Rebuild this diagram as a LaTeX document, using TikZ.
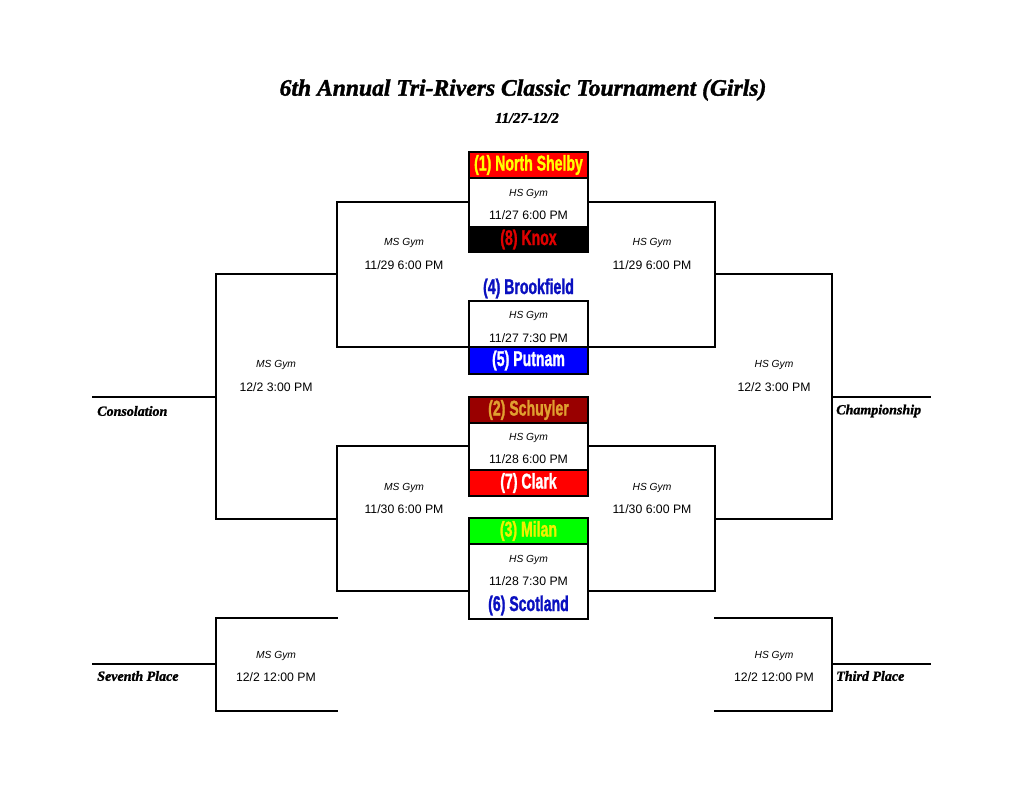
\documentclass[tikz,border=0pt]{standalone}
\usepackage{fontspec}
\setmainfont{Liberation Sans}
\newfontfamily\teamfont{Liberation Sans}[UprightFont=* Bold, FakeStretch=0.66, FakeBold=1.2]
\newfontfamily\titlefont{Liberation Serif}[UprightFont=* Bold Italic, FakeBold=1.5]
\definecolor{nsred}{HTML}{FF0000}
\definecolor{nsyellow}{HTML}{FFFF00}
\definecolor{knoxred}{HTML}{E00000}
\definecolor{dkblue}{HTML}{0A10C0}
\definecolor{putblue}{HTML}{0000FF}
\definecolor{schred}{HTML}{990000}
\definecolor{schgold}{HTML}{E0A030}
\definecolor{milgreen}{HTML}{00FF00}
\definecolor{milyellow}{HTML}{F0F000}
\tikzset{
  bline/.style={line width=1.1pt, black, line cap=rect},
  gbox/.style={draw, line width=0.9pt, minimum width=89.25pt, inner sep=0pt},
  team/.style={draw, line width=0.9pt, minimum width=89.25pt, inner sep=0pt,
    font=\teamfont\fontsize{16}{16}\selectfont},
  teamtxt/.style={inner sep=0pt, font=\teamfont\fontsize{16}{16}\selectfont},
  gym/.style={inner sep=0pt, font=\itshape\fontsize{7.7}{8}\selectfont},
  tm/.style={inner sep=0pt, font=\fontsize{9.2}{10}\selectfont},
  lab/.style={inner sep=0pt, anchor=west, font=\titlefont\fontsize{10.5}{11}\selectfont},
}
\begin{document}
\begin{tikzpicture}[x=0.75pt, y=-0.75pt]
\useasboundingbox (0,0) rectangle (1024,791);
\fill[white] (0,0) rectangle (1024,791);

% title
\node[inner sep=0pt, font=\titlefont\fontsize{17.7}{20}\selectfont] (title) at (523,90) {6th Annual Tri-Rivers Classic Tournament (Girls)};
\node[inner sep=0pt, font=\titlefont\fontsize{11}{12}\selectfont] (sub) at (527,118) {11/27-12/2};

% ---------- center game boxes ----------
% box 1
\node[gbox, minimum height=75pt] (b1) at (528.5,202) {};
\node[team, fill=nsred, text=nsyellow, minimum height=19.5pt] (t1) at (528.5,165) {(1) North Shelby};
\node[team, fill=black, text=knoxred, minimum height=18.75pt] (t8) at (528.5,239.5) {(8) Knox};
\node[gym] (g1) at (528.5,194) {HS Gym};
\node[tm] (d1) at (528.5,215) {11/27 6:00 PM};
% box 2
\node[teamtxt, text=dkblue] (t4) at (528.5,288.5) {(4) Brookfield};
\node[gbox, minimum height=54.75pt] (b2) at (528.5,337.5) {};
\node[team, fill=putblue, text=white, minimum height=20.25pt] (t5) at (528.5,360.5) {(5) Putnam};
\node[gym] (g2) at (528.5,316) {HS Gym};
\node[tm] (d2) at (528.5,338) {11/27 7:30 PM};
% box 3
\node[gbox, minimum height=74.25pt] (b3) at (528.5,446.5) {};
\node[team, fill=schred, text=schgold, minimum height=19.5pt] (t2) at (528.5,410) {(2) Schuyler};
\node[team, fill=nsred, text=white, minimum height=19.5pt] (t7) at (528.5,483) {(7) Clark};
\node[gym] (g3) at (528.5,438) {HS Gym};
\node[tm] (d3) at (528.5,459) {11/28 6:00 PM};
% box 4
\node[gbox, minimum height=75.75pt] (b4) at (528.5,568.5) {};
\node[team, fill=milgreen, text=milyellow, minimum height=19.5pt] (t3) at (528.5,531) {(3) Milan};
\node[teamtxt, text=dkblue] (t6) at (528.5,605.5) {(6) Scotland};
\node[gym] (g4) at (528.5,560) {HS Gym};
\node[tm] (d4) at (528.5,581) {11/28 7:30 PM};

% ---------- bracket coordinates ----------
\coordinate (L1a) at (337,202); \coordinate (L1b) at (337,347);
\coordinate (L2a) at (337,446); \coordinate (L2b) at (337,591);
\coordinate (R1a) at (715,202); \coordinate (R1b) at (715,347);
\coordinate (R2a) at (715,446); \coordinate (R2b) at (715,591);
\coordinate (LS1) at (216,274); \coordinate (LS2) at (216,519);
\coordinate (RS1) at (832,274); \coordinate (RS2) at (832,519);
\coordinate (Lcons) at (93,397); \coordinate (Rchamp) at (930,397);
\coordinate (L7a) at (216,618); \coordinate (L7b) at (216,711);
\coordinate (R3a) at (832,618); \coordinate (R3b) at (832,711);
\coordinate (L7e) at (93,664); \coordinate (R3e) at (930,664);

% first round -> second round
\draw[bline] (b1.west |- L1a) -- (L1a) -- (L1b) -- (b2.west |- L1b);
\draw[bline] (b1.east |- R1a) -- (R1a) -- (R1b) -- (b2.east |- R1b);
\draw[bline] (b3.west |- L2a) -- (L2a) -- (L2b) -- (b4.west |- L2b);
\draw[bline] (b3.east |- R2a) -- (R2a) -- (R2b) -- (b4.east |- R2b);
% second round -> semis
\draw[bline] (L1a |- LS1) -- (LS1);
\draw[bline] (L2a |- LS2) -- (LS2);
\draw[bline] (R1a |- RS1) -- (RS1);
\draw[bline] (R2a |- RS2) -- (RS2);
\draw[bline] (LS1) -- (LS2);
\draw[bline] (RS1) -- (RS2);
\draw[bline] (LS1 |- Lcons) -- (Lcons);
\draw[bline] (RS1 |- Rchamp) -- (Rchamp);
% placement games
\draw[bline] (L2a |- L7a) -- (L7a) -- (L7b) -- (L2a |- L7b);
\draw[bline] (R2a |- R3a) -- (R3a) -- (R3b) -- (R2a |- R3b);
\draw[bline] (L7a |- L7e) -- (L7e);
\draw[bline] (R3a |- R3e) -- (R3e);

% ---------- game info ----------
\node[gym] (g5) at (404,243) {MS Gym};  \node[tm] (d5) at (404,265) {11/29 6:00 PM};
\node[gym] (g6) at (652,243) {HS Gym};  \node[tm] (d6) at (652,265) {11/29 6:00 PM};
\node[gym] (g7) at (404,488) {MS Gym};  \node[tm] (d7) at (404,509) {11/30 6:00 PM};
\node[gym] (g8) at (652,488) {HS Gym};  \node[tm] (d8) at (652,509) {11/30 6:00 PM};
\node[gym] (g9) at (276,365) {MS Gym};  \node[tm] (d9) at (276,387) {12/2 3:00 PM};
\node[gym] (g10) at (774,365) {HS Gym}; \node[tm] (d10) at (774,387) {12/2 3:00 PM};
\node[gym] (g11) at (276,656) {MS Gym}; \node[tm] (d11) at (276,677) {12/2 12:00 PM};
\node[gym] (g12) at (774,656) {HS Gym}; \node[tm] (d12) at (774,677) {12/2 12:00 PM};

% ---------- placement labels ----------
\node[lab] (cons) at (97,411) {Consolation};
\node[lab] (champ) at (836,411) {Championship};
\node[lab] (seventh) at (97,676) {Seventh Place};
\node[lab] (third) at (836,676) {Third Place};
\end{tikzpicture}
\end{document}
